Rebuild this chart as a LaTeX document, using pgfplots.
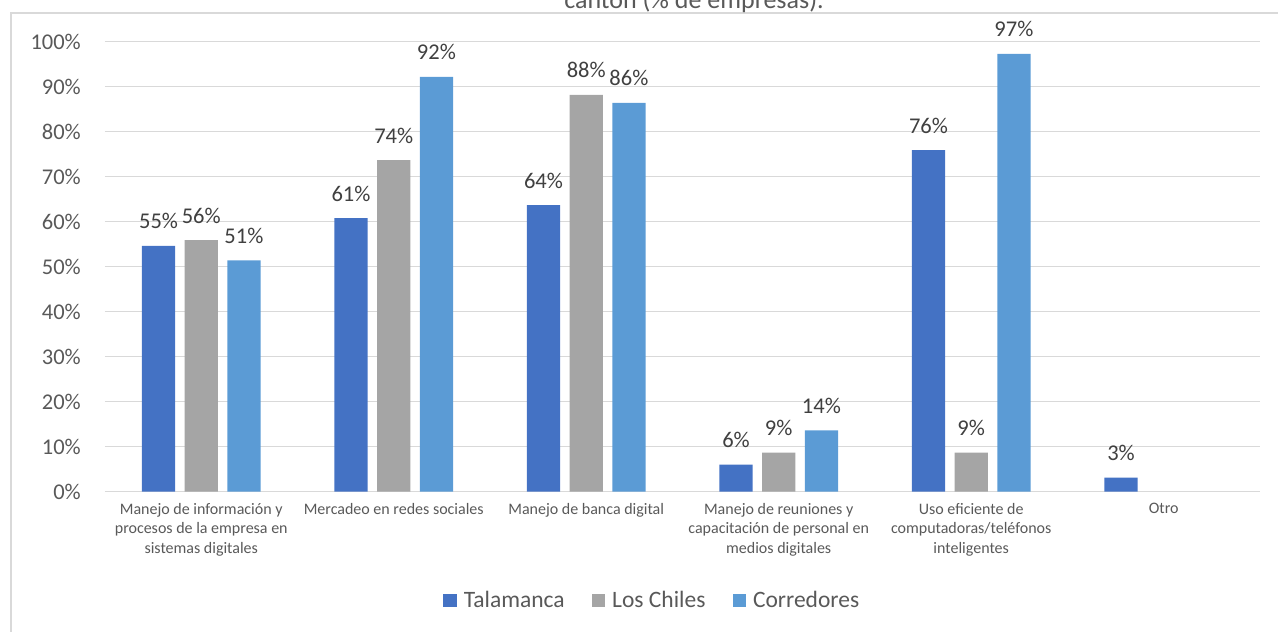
\documentclass[border=0pt]{standalone}
\usepackage{pgfplots}
\pgfplotsset{compat=1.18}
\usepackage{fontspec}
\setmainfont{Carlito}
\definecolor{cTal}{HTML}{4472C4}
\definecolor{cLos}{HTML}{A5A5A5}
\definecolor{cCor}{HTML}{5B9BD5}
\definecolor{gridc}{HTML}{D9D9D9}
\definecolor{txt}{HTML}{595959}
\definecolor{lbl}{HTML}{404040}
\begin{document}
\begin{tikzpicture}[x=1pt,y=1pt]
\path[use as bounding box] (0,0) rectangle (1278,632);
\draw[gridc, line width=1.5pt] (11,-20) rectangle (1300,619);
\node[anchor=base, font=\fontsize{26}{30}\selectfont, text=txt, inner sep=0pt] at (694,623) {cantón (\% de empresas).};
\begin{axis}[
  at={(105pt,140.3pt)}, anchor=south west,
  width=1155pt, height=450pt, scale only axis,
  ybar=9.4pt, bar width=33.3pt,
  xmin=-0.5, xmax=5.5, ymin=0, ymax=100,
  xtick={0,1,2,3,4,5},
  xticklabels={
    {Manejo de información y\\procesos de la empresa en\\sistemas digitales},
    {Mercadeo en redes sociales},
    {Manejo de banca digital},
    {Manejo de reuniones y\\capacitación de personal en\\medios digitales},
    {Uso eficiente de\\computadoras/teléfonos\\inteligentes},
    {Otro}},
  ytick={0,10,20,30,40,50,60,70,80,90,100},
  yticklabels={0\%,10\%,20\%,30\%,40\%,50\%,60\%,70\%,80\%,90\%,100\%},
  ymajorgrids,
  grid style={gridc, line width=1.5pt},
  axis line style={draw=none},
  major tick length=0pt,
  tick style={draw=none},
  xticklabel style={font=\fontsize{16}{19.5}\selectfont, text=txt, align=center, anchor=north, inner sep=0pt, yshift=-11pt},
  yticklabel style={font=\fontsize{22.5}{26}\selectfont, text=txt, anchor=east, inner sep=0pt, xshift=-24pt},
  /pgf/number format/assume math mode=true,
  nodes near coords={\pgfmathprintnumber[fixed,precision=0]{\pgfplotspointmeta}\%},
  nodes near coords style={font=\fontsize{22.5}{26}\selectfont, text=lbl, anchor=base, inner sep=0pt, yshift=17pt},
  legend columns=3,
  legend style={at={(0.476,-0.2407)}, anchor=center, draw=none, fill=none,
    font=\fontsize{23.5}{27}\selectfont, text=txt,
    nodes={inner ysep=3pt, inner xsep=7pt},
    /tikz/every even column/.append style={column sep=20pt}},
  legend image code/.code={\path[#1] (0pt,-7pt) rectangle (13.5pt,6.5pt);},
  clip=false,
]
\addplot[fill=cTal, draw=none] coordinates {(0,54.6) (1,60.8) (2,63.7) (3,6.0) (4,75.9) (5,3.1)};
\addplot[fill=cLos, draw=none] coordinates {(0,55.9) (1,73.7) (2,88.2) (3,8.7) (4,8.7)};
\addplot[fill=cCor, draw=none] coordinates {(0,51.4) (1,92.2) (2,86.4) (3,13.6) (4,97.3)};
\legend{Talamanca, Los Chiles, Corredores}
\end{axis}
\end{tikzpicture}
\end{document}
